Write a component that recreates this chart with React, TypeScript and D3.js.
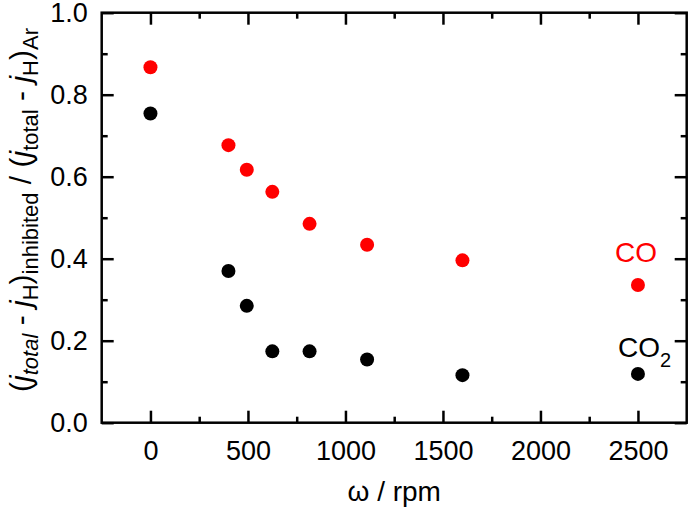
import { useEffect, useRef } from "react";
import * as d3 from "d3";

// rotation rates (rpm)
const rpm = [0, 400, 494, 625, 816, 1111, 1600, 2500];
// normalised inhibited current, CO and CO2
const coValues = [0.867, 0.677, 0.617, 0.563, 0.485, 0.434, 0.396, 0.336];
const co2Values = [0.754, 0.37, 0.285, 0.174, 0.174, 0.154, 0.116, 0.119];

const xMajor = [0, 500, 1000, 1500, 2000, 2500];
const xMinor = [250, 750, 1250, 1750, 2250];
const yMajor = [0, 0.2, 0.4, 0.6, 0.8, 1.0];
const yMinor = [0.1, 0.3, 0.5, 0.7, 0.9];

const W = 689;
const H = 509;
const FONT = "'Liberation Sans', Arial, sans-serif";

const App = () => {
  const ref = useRef<SVGSVGElement>(null);

  useEffect(() => {
    const svg = d3.select(ref.current);
    svg.selectAll("*").remove();

    const x = d3.scaleLinear().domain([-250, 2750]).range([101.7, 686.7]);
    const y = d3.scaleLinear().domain([0, 1]).range([422.7, 12.7]);

    const x0 = x.range()[0];
    const x1 = x.range()[1];
    const y0 = y.range()[0];
    const y1 = y.range()[1];

    const styleAxis = (g) => {
      g.select(".domain").remove();
      g.selectAll("line").attr("stroke", "#000").attr("stroke-width", 2.5);
      g.selectAll("text")
        .attr("font-family", FONT)
        .attr("font-size", 27)
        .attr("fill", "#000");
    };

    // bottom
    svg
      .append("g")
      .attr("transform", `translate(0,${y0})`)
      .call(d3.axisBottom(x).tickValues(xMajor).tickSize(-12).tickPadding(18).tickFormat(d3.format("d")))
      .call(styleAxis);
    svg
      .append("g")
      .attr("transform", `translate(0,${y0})`)
      .call(d3.axisBottom(x).tickValues(xMinor).tickSize(-6).tickFormat(() => ""))
      .call(styleAxis);
    // top
    svg
      .append("g")
      .attr("transform", `translate(0,${y1})`)
      .call(d3.axisTop(x).tickValues(xMajor).tickSize(-12).tickFormat(() => ""))
      .call(styleAxis);
    svg
      .append("g")
      .attr("transform", `translate(0,${y1})`)
      .call(d3.axisTop(x).tickValues(xMinor).tickSize(-6).tickFormat(() => ""))
      .call(styleAxis);
    // left
    svg
      .append("g")
      .attr("transform", `translate(${x0},0)`)
      .call(d3.axisLeft(y).tickValues(yMajor).tickSize(-12).tickPadding(14).tickFormat(d3.format(".1f")))
      .call(styleAxis);
    svg
      .append("g")
      .attr("transform", `translate(${x0},0)`)
      .call(d3.axisLeft(y).tickValues(yMinor).tickSize(-6).tickFormat(() => ""))
      .call(styleAxis);
    // right
    svg
      .append("g")
      .attr("transform", `translate(${x1},0)`)
      .call(d3.axisRight(y).tickValues(yMajor).tickSize(-12).tickFormat(() => ""))
      .call(styleAxis);
    svg
      .append("g")
      .attr("transform", `translate(${x1},0)`)
      .call(d3.axisRight(y).tickValues(yMinor).tickSize(-6).tickFormat(() => ""))
      .call(styleAxis);

    // frame
    svg
      .append("rect")
      .attr("x", x0)
      .attr("y", y1)
      .attr("width", x1 - x0)
      .attr("height", y0 - y1)
      .attr("fill", "none")
      .attr("stroke", "#000")
      .attr("stroke-width", 2.5);

    // points
    svg
      .append("g")
      .selectAll("circle")
      .data(rpm)
      .enter()
      .append("circle")
      .attr("cx", (d) => x(d))
      .attr("cy", (d, i) => y(coValues[i]))
      .attr("r", 7)
      .attr("fill", "#ff0000");
    svg
      .append("g")
      .selectAll("circle")
      .data(rpm)
      .enter()
      .append("circle")
      .attr("cx", (d) => x(d))
      .attr("cy", (d, i) => y(co2Values[i]))
      .attr("r", 7)
      .attr("fill", "#000");

    // series labels
    svg
      .append("text")
      .attr("x", 615)
      .attr("y", 262)
      .attr("font-family", FONT)
      .attr("font-size", 28)
      .attr("fill", "#ff0000")
      .text("CO");
    const co2 = svg
      .append("text")
      .attr("x", 618)
      .attr("y", 357)
      .attr("font-family", FONT)
      .attr("font-size", 28)
      .attr("fill", "#000");
    co2.append("tspan").text("CO");
    co2.append("tspan").attr("font-size", 20).attr("dy", 10).text("2");

    // x label
    svg
      .append("text")
      .attr("x", (x0 + x1) / 2)
      .attr("y", 501)
      .attr("text-anchor", "middle")
      .attr("font-family", FONT)
      .attr("font-size", 28)
      .text("ω / rpm");

    // y label
    const yl = svg
      .append("text")
      .attr("transform", `translate(31,210) rotate(-90)`)
      .attr("text-anchor", "middle")
      .attr("font-family", FONT)
      .attr("font-size", 30);
    const parts = [
      { t: "(", sub: false },
      { t: "j", it: true },
      { t: "total", sub: true, it: true },
      { t: " - ", back: true },
      { t: "j", it: true },
      { t: "H", sub: true },
      { t: ")", back: true },
      { t: "inhibited", sub: true },
      { t: " / (", back: true },
      { t: "j", it: true },
      { t: "total", sub: true },
      { t: " - ", back: true },
      { t: "j", it: true },
      { t: "H", sub: true },
      { t: ")", back: true },
      { t: "Ar", sub: true },
    ];
    parts.forEach((p) => {
      const ts = yl.append("tspan").text(p.t);
      if (p.it) ts.attr("font-style", "italic");
      if (p.sub) ts.attr("font-size", 22).attr("dy", 7);
      if (p.back) ts.attr("dy", -7);
    });
  }, []);

  return (
    <div style={{ position: "absolute", left: 0, top: 0 }}>
      <svg ref={ref} width={W} height={H} style={{ display: "block", background: "#fff" }}></svg>
    </div>
  );
};

export default App;
